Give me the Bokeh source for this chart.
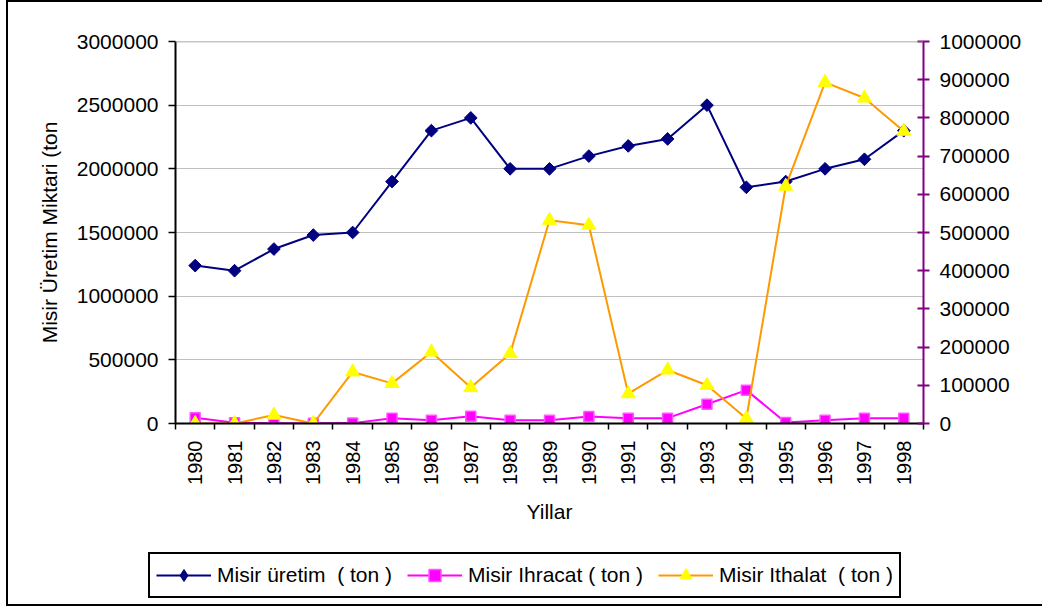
import math
from bokeh.plotting import figure
from bokeh.layouts import column, row
from bokeh.models import (Range1d, LinearAxis, FixedTicker, BasicTickFormatter,
                          Legend, LegendItem, Span)
from bokeh.embed import file_html
from bokeh.resources import INLINE

# ---- data ----
years = ["1980", "1981", "1982", "1983", "1984", "1985", "1986", "1987", "1988", "1989",
         "1990", "1991", "1992", "1993", "1994", "1995", "1996", "1997", "1998"]
uretim = [1240000, 1200000, 1370000, 1480000, 1500000, 1900000, 2300000, 2400000, 2000000,
          2000000, 2100000, 2180000, 2235000, 2500000, 1855000, 1900000, 2000000, 2075000, 2300000]
ihracat = [45000, 5000, 2000, 2000, 3000, 42000, 26000, 57000, 26000, 26000,
           55000, 42000, 42000, 151000, 262000, 8000, 26000, 42000, 42000]
ithalat = [0, 0, 22000, 0, 135000, 105000, 187000, 94000, 183000, 532000,
           519000, 78000, 140000, 100000, 13000, 621000, 893000, 852000, 765000]
left_ticks = [0, 500000, 1000000, 1500000, 2000000, 2500000, 3000000]
right_ticks = [0, 100000, 200000, 300000, 400000, 500000, 600000, 700000, 800000, 900000, 1000000]
labels = ["Misir üretim  ( ton )", "Misir Ihracat ( ton )", "Misir Ithalat  ( ton )"]

FONT = "Liberation Sans"
C_URETIM = "#000080"
C_IHRACAT = "#FF00FF"
C_ITHALAT_LINE = "#FF9900"
C_ITHALAT_MARK = "#FFFF00"
n = len(years)
xs = [i + 0.5 for i in range(n)]

p = figure(width=1034, height=545, output_backend="svg", toolbar_location=None,
           x_range=Range1d(0, n), y_range=Range1d(0, left_ticks[-1]),
           min_border_left=167, min_border_right=119, min_border_top=39, min_border_bottom=124)
p.extra_y_ranges = {"right": Range1d(0, right_ticks[-1])}
p.outline_line_color = None
p.background_fill_color = "white"
p.border_fill_color = "white"

# grid
p.xgrid.grid_line_color = None
p.ygrid.ticker = FixedTicker(ticks=left_ticks)
p.ygrid.grid_line_color = "#c0c0c0"
p.ygrid.grid_line_width = 1.2
p.add_layout(Span(location=left_ticks[-1], dimension="width", line_color="#8c8c8c", line_width=1.5))

# x axis
xa = p.xaxis[0]
xa.ticker = FixedTicker(ticks=xs, minor_ticks=list(range(n + 1)))
xa.major_label_overrides = {xv: y for xv, y in zip(xs, years)}
xa.major_tick_out = 0
xa.major_tick_in = 0
xa.minor_tick_out = 6
xa.minor_tick_in = 0
xa.minor_tick_line_color = "black"
xa.minor_tick_line_width = 1.5
xa.axis_line_color = "black"
xa.axis_line_width = 2
xa.major_label_orientation = math.pi / 2
xa.major_label_standoff = 11
xa.major_label_text_font = FONT
xa.major_label_text_font_size = "20px"
xa.major_label_text_color = "black"
xa.axis_label = "Yillar"
xa.axis_label_text_font = FONT
xa.axis_label_text_font_size = "21px"
xa.axis_label_text_font_style = "normal"
xa.axis_label_text_color = "black"
xa.axis_label_standoff = 12

# left y axis
ya = p.yaxis[0]
ya.ticker = FixedTicker(ticks=left_ticks)
ya.formatter = BasicTickFormatter(use_scientific=False)
ya.major_tick_out = 7
ya.major_tick_in = 0
ya.major_tick_line_width = 1.5
ya.minor_tick_line_color = None
ya.axis_line_width = 2
ya.major_label_standoff = 10
ya.major_label_text_font = FONT
ya.major_label_text_font_size = "21px"
ya.major_label_text_color = "black"
ya.axis_label = "Misir Üretim Miktari (ton"
ya.axis_label_text_font = FONT
ya.axis_label_text_font_size = "21px"
ya.axis_label_text_font_style = "normal"
ya.axis_label_text_color = "black"
ya.axis_label_standoff = 13

# right y axis
ra = LinearAxis(y_range_name="right", ticker=FixedTicker(ticks=right_ticks),
                formatter=BasicTickFormatter(use_scientific=False))
ra.axis_line_color = "#800080"
ra.axis_line_width = 2
ra.major_tick_line_color = "#800080"
ra.major_tick_line_width = 2
ra.major_tick_in = 6
ra.major_tick_out = 6
ra.minor_tick_line_color = None
ra.major_label_standoff = 10
ra.major_label_text_font = FONT
ra.major_label_text_font_size = "21px"
ra.major_label_text_color = "black"
p.add_layout(ra, "right")

# series
p.line(xs, uretim, line_color=C_URETIM, line_width=2)
p.scatter(xs, uretim, marker="square", angle=math.pi / 4, size=9,
          fill_color=C_URETIM, line_color=C_URETIM)
p.line(xs, ihracat, line_color=C_IHRACAT, line_width=2)
p.scatter(xs, ihracat, marker="square", size=10,
          fill_color=C_IHRACAT, line_color="#FF55FF", line_width=1.5)
p.line(xs, ithalat, line_color=C_ITHALAT_LINE, line_width=2, y_range_name="right")
p.scatter(xs, ithalat, marker="triangle", size=14,
          fill_color=C_ITHALAT_MARK, line_color=C_ITHALAT_MARK, y_range_name="right")

# legend strip (separate figure below the chart, wrapped so its frame is not aligned)
nan = float("nan")
lf = figure(width=1034, height=57, output_backend="svg", toolbar_location=None,
            x_range=Range1d(0, 1), y_range=Range1d(0, 1), min_border=0,
            x_axis_location=None, y_axis_location=None)
lf.grid.grid_line_color = None
lf.outline_line_color = None
lf.border_fill_color = "white"
l1 = lf.line([nan], [nan], line_color=C_URETIM, line_width=2)
m1 = lf.scatter([nan], [nan], marker="diamond", size=14, fill_color=C_URETIM, line_color=C_URETIM)
l2 = lf.line([nan], [nan], line_color=C_IHRACAT, line_width=2)
m2 = lf.scatter([nan], [nan], marker="square", size=10, fill_color=C_IHRACAT,
                line_color="#FF55FF", line_width=1.5)
l3 = lf.line([nan], [nan], line_color=C_ITHALAT_LINE, line_width=2)
m3 = lf.scatter([nan], [nan], marker="triangle", size=14, fill_color=C_ITHALAT_MARK,
                line_color=C_ITHALAT_MARK)

legend = Legend(items=[LegendItem(label=labels[0], renderers=[l1, m1]),
                       LegendItem(label=labels[1], renderers=[l2, m2]),
                       LegendItem(label=labels[2], renderers=[l3, m3])],
                location=(140, 6), orientation="horizontal",
                border_line_color="black", border_line_width=2, border_line_alpha=1,
                padding=6, spacing=15, margin=0,
                glyph_width=55, glyph_height=30, label_standoff=6,
                label_text_font=FONT, label_text_font_size="21px", label_text_color="black",
                background_fill_color="white", background_fill_alpha=1)
lf.add_layout(legend)

layout = column(p, row(lf, spacing=0), spacing=0)
layout.styles = {"margin-left": "6px", "margin-top": "0px",
                 "border-left": "2px solid black", "border-top": "2px solid black",
                 "border-bottom": "2px solid black"}

open("out.html", "w").write(file_html(layout, INLINE))
